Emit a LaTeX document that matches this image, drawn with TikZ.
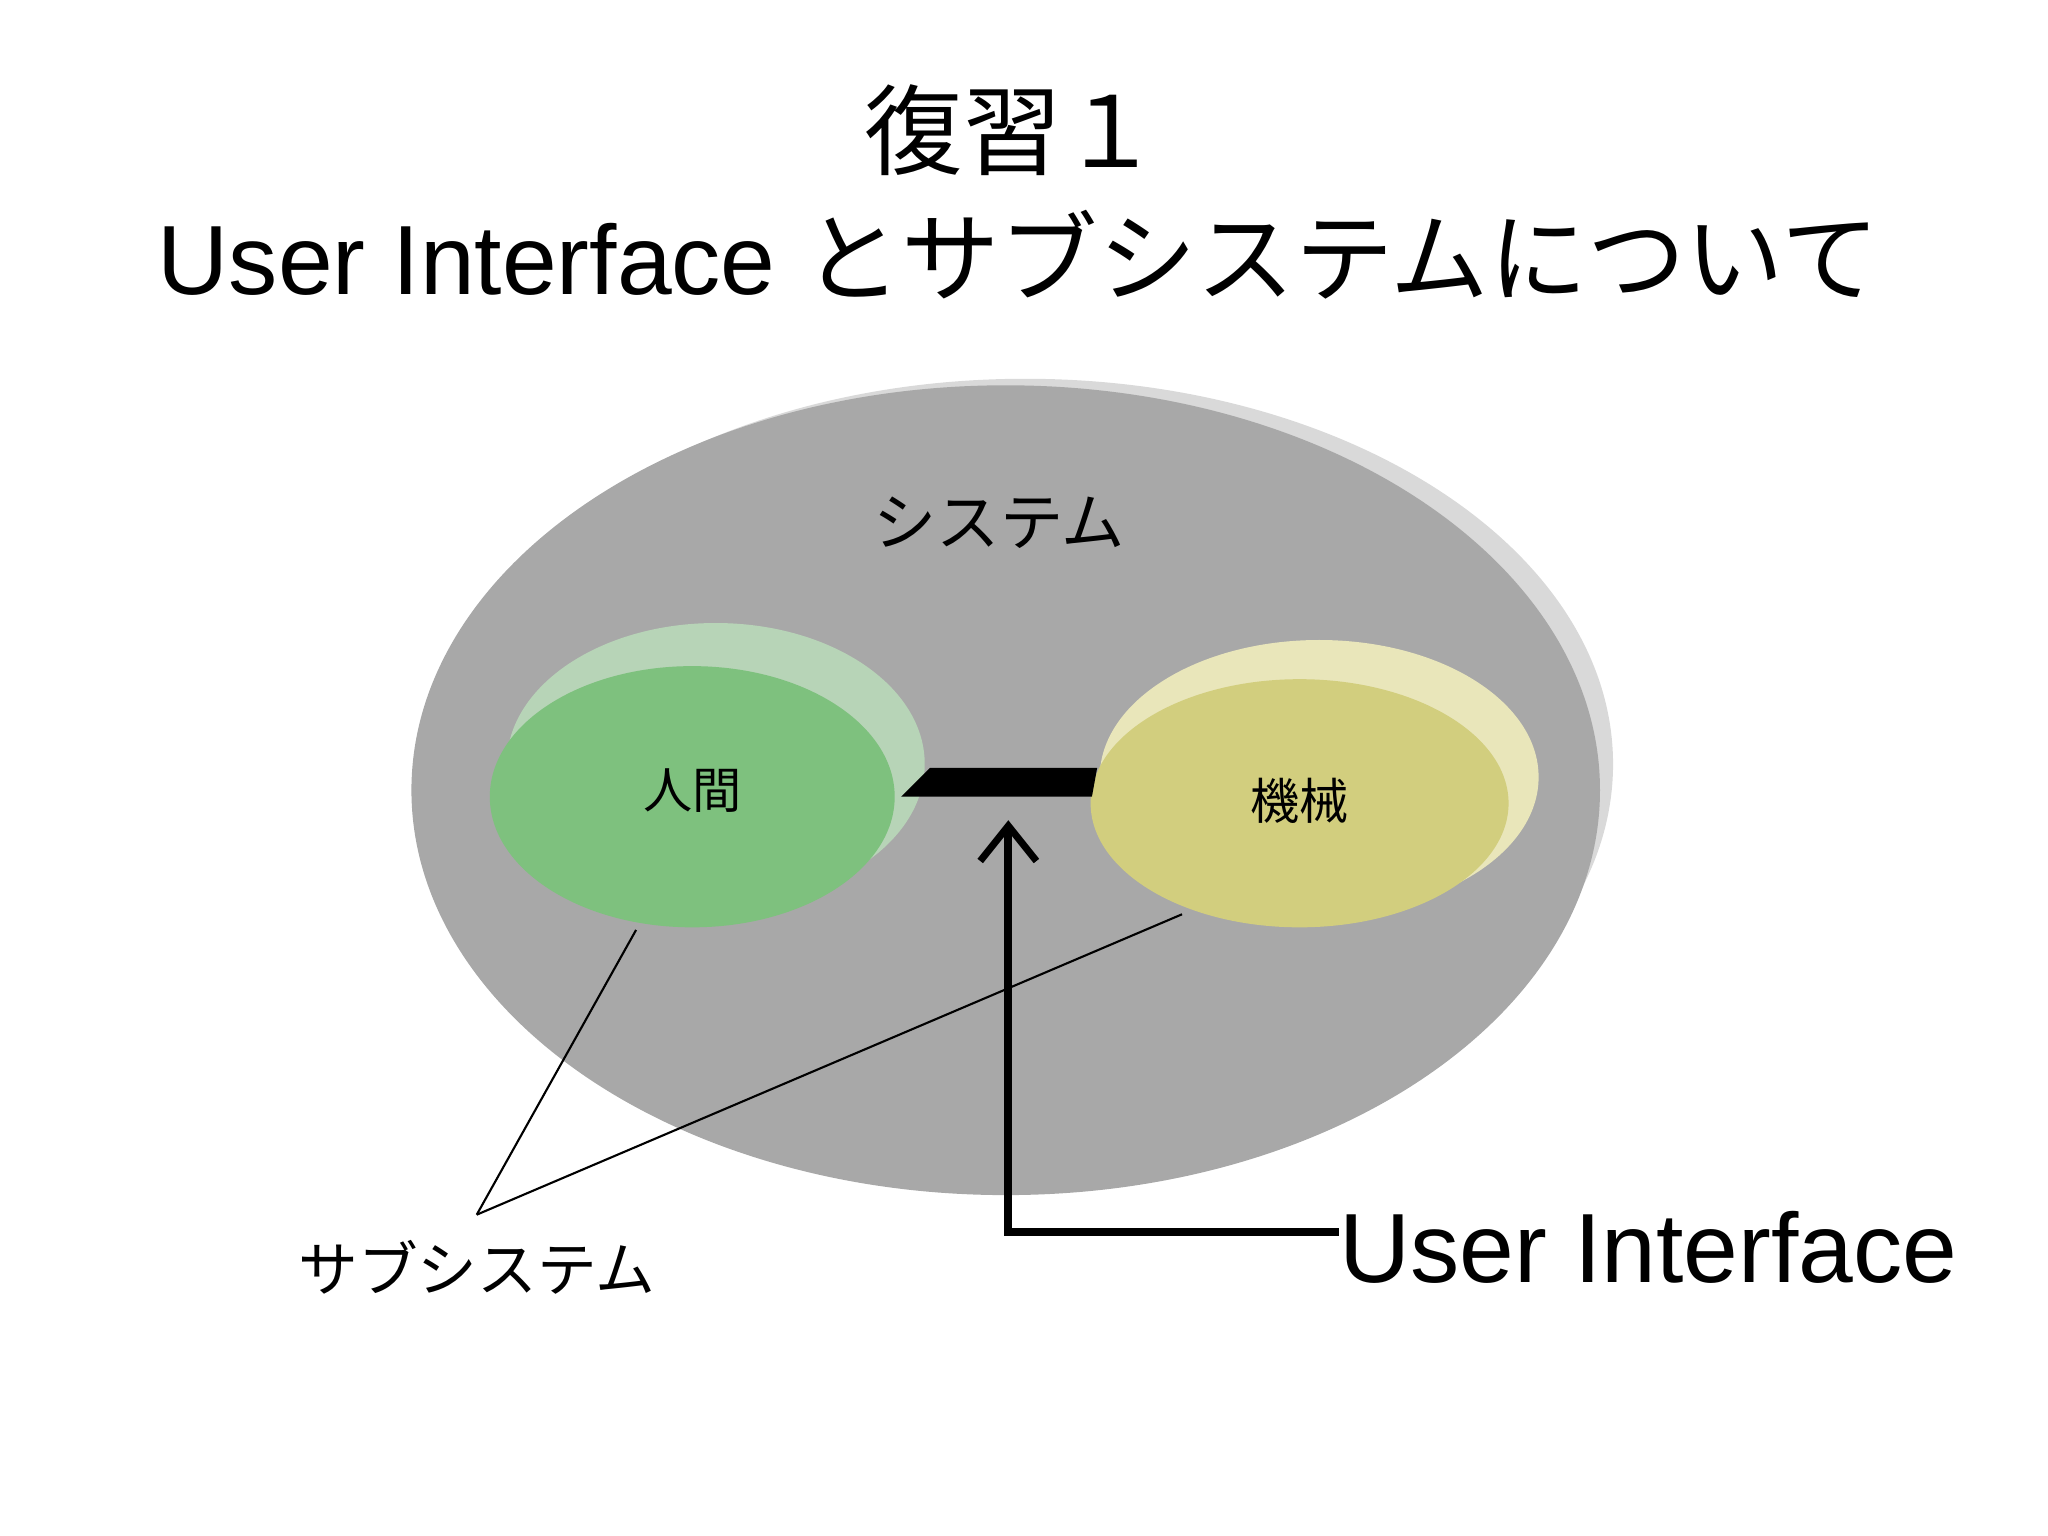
\documentclass[tikz,border=0pt]{standalone}
\usepackage{fontspec}
\setmainfont{Liberation Sans}
\newfontfamily\cjk{Noto Sans CJK JP}
\usetikzlibrary{arrows.meta}
\begin{document}
\begin{tikzpicture}[x=0.01306cm,y=-0.01306cm,
  jp/.style={font=\cjk\fontsize{#1}{#1}\selectfont,inner sep=0},
  en/.style={font=\fontsize{#1}{#1}\selectfont,inner sep=0},
  thinline/.style={black,line width=0.6pt}]
\useasboundingbox (0,0) rectangle (1568,1176);
\node[jp=28pt] (t1) at (775,100) {復習１};
\node[inner sep=0] (t2) at (780,195) {{\fontsize{28pt}{28pt}\selectfont User Interface }{\cjk\fontsize{28pt}{28pt}\selectfont とサブシステムについて}};
% system disk
\fill[gray!30] (785,585) ellipse [x radius=450, y radius=295];
\fill[gray!68] (770,605) ellipse [x radius=455, y radius=310];
\node[jp=18pt] (sys) at (765,400) {システム};
% human
\fill[green!25!gray!45!white] (548,585) ellipse [x radius=160, y radius=108];
\fill[green!35!gray!75] (530,610) ellipse [x radius=155, y radius=100];
\node[jp=14pt] (h) at (530,605) {人間};
% machine
\fill[yellow!50!gray!40!white] (1010,595) ellipse [x radius=168, y radius=105];
\fill[yellow!50!gray!80!white] (995,615) ellipse [x radius=160, y radius=95];
\node[jp=14pt] (m) at (995,613) {機械};
% interface
\fill[black] (690,610) -- (712,588) -- (840,588) -- (836,610) -- cycle;
\coordinate (ui) at (772,628);
\node[en=28pt,anchor=west] (uil) at (1025,955) {User Interface};
\draw[line width=2.2pt,-{Straight Barb[length=10pt,width=16pt,line width=2pt]}] (uil.west|-943,943) -- (772,943) -- (ui);
% subsystem
\node[jp=17pt] (sub) at (365,970) {サブシステム};
\coordinate (s0) at (365,930);
\draw[thinline] (s0) -- (487,712);
\draw[thinline] (s0) -- (905,700);
\end{tikzpicture}
\end{document}
